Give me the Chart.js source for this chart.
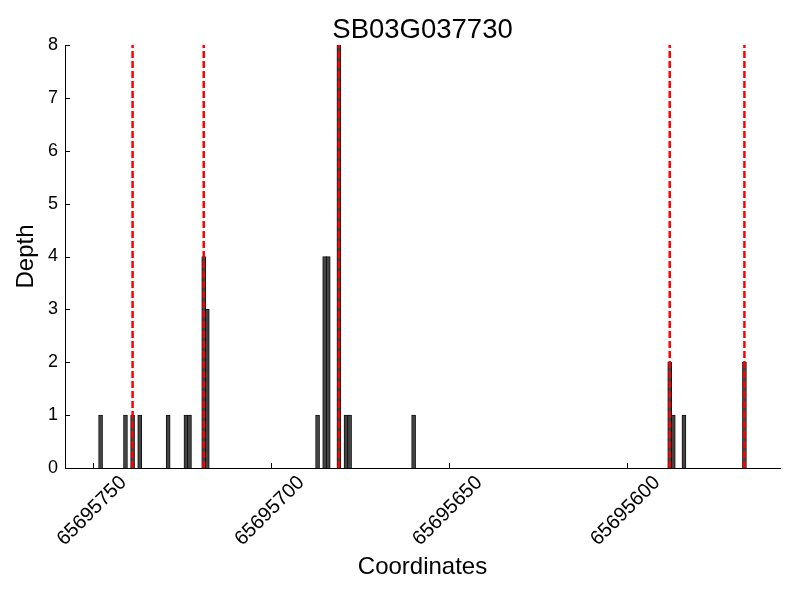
<!DOCTYPE html>
<html>
<head>
<meta charset="utf-8">
<script src="https://cdn.jsdelivr.net/npm/chart.js@4/dist/chart.umd.min.js"></script>
<style>
  body { margin: 0; background: #fff; }
</style>
</head>
<body>
<canvas id="depthChart" width="800" height="600"></canvas>
<script>
// read depth per coordinate off the picture
var coords = [65695748, 65695741, 65695739, 65695737, 65695729, 65695724, 65695723,
              65695719, 65695718, 65695687, 65695685, 65695684, 65695681, 65695679,
              65695678, 65695660, 65695588, 65695587, 65695584, 65695567];
var depths = [1, 1, 1, 1, 1, 1, 1, 4, 3, 1, 4, 4, 8, 1, 1, 1, 2, 1, 1, 2];

// red dashed marker positions
var cutSites = [65695739, 65695719, 65695681, 65695588, 65695567];

var xTicks = [65695750, 65695700, 65695650, 65695600];
var xMin = 65695557, xMax = 65695758;
var yMax = 8;
var titleText = 'SB03G037730';

var fontFamily = "'Liberation Sans', Arial, sans-serif";
Chart.defaults.font.family = fontFamily;
Chart.defaults.color = '#000';

// matplotlib look: inward tick marks, labels centred on their ticks,
// title centred over the plot area
var mplDecor = {
  id: 'mplDecor',
  afterDraw: function (chart) {
    var ctx = chart.ctx, area = chart.chartArea;
    var xs = chart.scales.x, ys = chart.scales.y;
    ctx.save();
    ctx.strokeStyle = '#000';
    ctx.lineWidth = 1;
    ctx.beginPath();
    ys.ticks.forEach(function (t) {
      var y = Math.round(ys.getPixelForValue(t.value)) + 0.5;
      ctx.moveTo(area.left, y);
      ctx.lineTo(area.left + 5, y);
    });
    xs.ticks.forEach(function (t) {
      var x = Math.round(xs.getPixelForValue(t.value)) + 0.5;
      ctx.moveTo(x, area.bottom);
      ctx.lineTo(x, area.bottom - 5);
    });
    ctx.stroke();

    ctx.fillStyle = '#000';
    ctx.font = '20px ' + fontFamily;
    ctx.textAlign = 'center';
    ctx.textBaseline = 'middle';
    xs.ticks.forEach(function (t) {
      var x = xs.getPixelForValue(t.value);
      ctx.save();
      ctx.translate(x - 1.5, area.bottom + 43);
      ctx.rotate(-Math.PI / 4);
      ctx.fillText(String(t.value), 0, 0);
      ctx.restore();
    });

    ctx.font = '27.5px ' + fontFamily;
    ctx.textBaseline = 'alphabetic';
    ctx.fillText(titleText, (area.left + area.right) / 2, 38);
    ctx.restore();
  }
};

var datasets = [{
  type: 'bar',
  label: 'Depth',
  data: coords.map(function (c, i) { return { x: c, y: depths[i] }; }),
  backgroundColor: '#444444',
  borderColor: '#111111',
  borderWidth: 1,
  barThickness: 4,
  order: 2
}];

cutSites.forEach(function (s) {
  datasets.push({
    type: 'line',
    label: 'cut',
    data: [{ x: s, y: 0 }, { x: s, y: yMax }],
    borderColor: '#ff0000',
    borderWidth: 2.5,
    borderDash: [7, 3],
    pointRadius: 0,
    order: 1
  });
});

var ctx = document.getElementById('depthChart');

var chart = new Chart(ctx, {
  type: 'bar',
  data: { datasets: datasets },
  plugins: [mplDecor],
  options: {
    responsive: false,
    animation: false,
    layout: { padding: { left: 0, right: 20, top: 45, bottom: 0 } },
    plugins: {
      legend: { display: false },
      tooltip: { enabled: false },
      title: { display: false }
    },
    scales: {
      x: {
        type: 'linear',
        reverse: true,
        offset: false,
        min: xMin,
        max: xMax,
        grid: { display: false, drawTicks: false, offset: false },
        border: { display: true, color: '#000', width: 1 },
        afterBuildTicks: function (scale) {
          scale.ticks = xTicks.map(function (v) { return { value: v }; });
        },
        afterFit: function (scale) { scale.height = 132; },
        ticks: { display: false },
        title: {
          display: true,
          text: 'Coordinates',
          font: { size: 24 },
          padding: { top: 0, bottom: 18 }
        }
      },
      y: {
        min: 0,
        max: yMax,
        grid: { display: false, drawTicks: false },
        border: { display: true, color: '#000', width: 1 },
        afterFit: function (scale) { scale.width = 65; },
        ticks: {
          stepSize: 1,
          padding: 7,
          font: { size: 18 }
        },
        title: {
          display: true,
          text: 'Depth',
          font: { size: 24 },
          padding: { top: 12, bottom: 0 }
        }
      }
    }
  }
});
</script>
</body>
</html>
